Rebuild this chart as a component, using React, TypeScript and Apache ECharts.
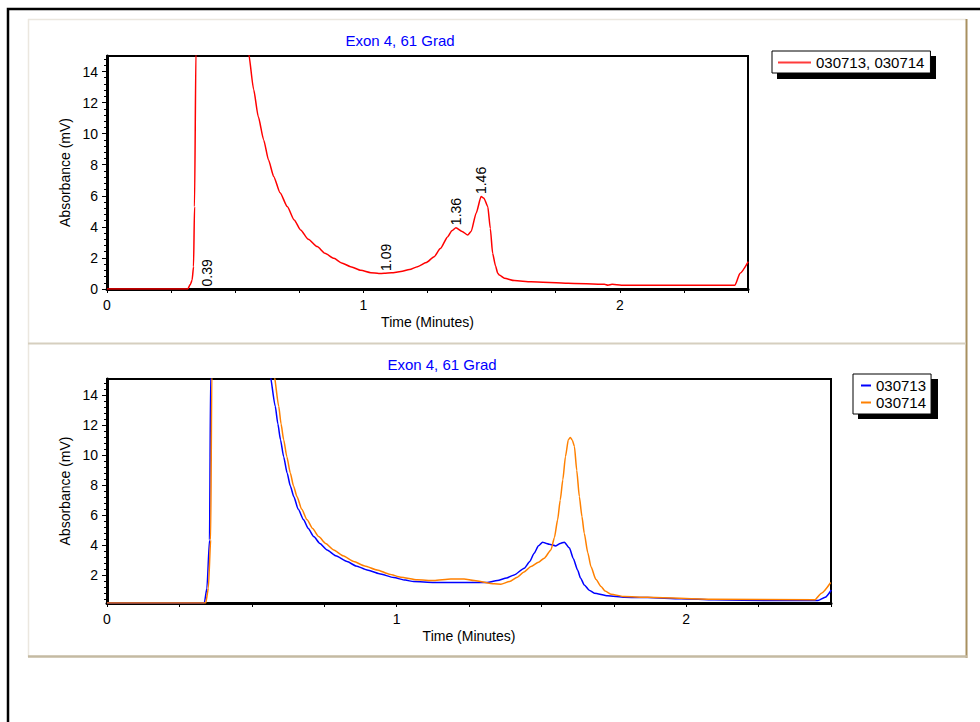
import React, { useEffect, useRef } from 'react';
import * as echarts from 'echarts';

const FONT = '"Liberation Sans", Arial, sans-serif';

const chartTitle = 'Exon 4, 61 Grad';
const xAxisName = 'Time (Minutes)';
const yAxisName = 'Absorbance (mV)';
const topSeriesName = '030713, 030714';
const bottomSeriesNames = ['030713', '030714'];

const xTickLabels = [0, 1, 2];
const topYTickLabels = [0, 2, 4, 6, 8, 10, 12, 14];
const bottomYTickLabels = [2, 4, 6, 8, 10, 12, 14];

const peakTimes = [0.39, 1.09, 1.36, 1.46];
const peakLabelHeights = [0, 1.0, 3.95, 5.95];

const topTrace: [number, number][] = [
  [0, 0], [0.315, 0], [0.325, 0.3], [0.332, 0.58], [0.3375, 1.44], [0.3414, 5.3],
  [0.347, 15.5], [0.42, 60], [0.552, 15.2], [0.572, 12.84], [0.59, 11.1], [0.611, 9.6],
  [0.63, 8.3], [0.65, 7.25], [0.675, 6.2], [0.703, 5.31], [0.73, 4.45], [0.755, 3.8],
  [0.785, 3.2], [0.82, 2.73], [0.85, 2.3], [0.885, 1.98], [0.915, 1.68], [0.95, 1.44],
  [0.99, 1.2], [1.029, 1.05], [1.06, 1.0], [1.081, 1.01], [1.11, 1.05], [1.146, 1.12],
  [1.18, 1.25], [1.211, 1.44], [1.245, 1.7], [1.276, 2.08], [1.30, 2.6], [1.329, 3.37],
  [1.345, 3.75], [1.361, 3.95], [1.385, 3.7], [1.407, 3.48], [1.42, 3.7], [1.44, 4.9],
  [1.459, 5.95], [1.47, 5.85], [1.485, 5.31], [1.495, 3.9], [1.504, 2.3], [1.515, 1.5],
  [1.524, 1.01], [1.53, 0.9], [1.55, 0.69], [1.589, 0.54], [1.654, 0.47], [1.798, 0.37],
  [1.94, 0.3], [1.954, 0.24], [1.97, 0.3], [2.006, 0.24], [2.449, 0.24], [2.469, 1.01],
  [2.501, 1.76],
];

const trace030713: [number, number][] = [
  [0, 0.12], [0.336, 0.12], [0.345, 1.11], [0.354, 4.34], [0.358, 15.5], [0.44, 60],
  [0.562, 15.5], [0.581, 13.27], [0.59, 12.1], [0.599, 11.04], [0.61, 9.9], [0.622, 8.81],
  [0.633, 7.95], [0.645, 7.24], [0.66, 6.4], [0.679, 5.68], [0.695, 5.1], [0.714, 4.56],
  [0.735, 4.1], [0.76, 3.67], [0.79, 3.28], [0.829, 2.89], [0.86, 2.6], [0.898, 2.33],
  [0.94, 2.08], [0.99, 1.82], [1.03, 1.65], [1.059, 1.55], [1.129, 1.49], [1.244, 1.49],
  [1.313, 1.49], [1.348, 1.62], [1.38, 1.8], [1.406, 2.0], [1.441, 2.45], [1.46, 2.9],
  [1.475, 3.45], [1.49, 3.95], [1.504, 4.19], [1.515, 4.12], [1.527, 4.05], [1.55, 3.94],
  [1.565, 4.1], [1.579, 4.19], [1.597, 3.79], [1.61, 3.1], [1.625, 2.33], [1.635, 1.8],
  [1.648, 1.33], [1.665, 0.98], [1.683, 0.78], [1.729, 0.6], [1.787, 0.51], [1.867, 0.48],
  [1.983, 0.41], [2.098, 0.33], [2.294, 0.28], [2.455, 0.28], [2.48, 0.5], [2.501, 0.99],
];

const trace030714: [number, number][] = [
  [0, 0.12], [0.341, 0.12], [0.35, 1.11], [0.358, 4.34], [0.362, 15.5], [0.45, 60],
  [0.576, 15.5], [0.593, 13.27], [0.601, 12.1], [0.61, 11.04], [0.621, 9.9], [0.633, 8.81],
  [0.644, 7.95], [0.656, 7.24], [0.672, 6.4], [0.691, 5.68], [0.71, 5.1], [0.731, 4.56],
  [0.755, 4.1], [0.783, 3.67], [0.815, 3.28], [0.852, 2.89], [0.89, 2.6], [0.933, 2.33],
  [0.975, 2.05], [1.014, 1.85], [1.071, 1.67], [1.129, 1.62], [1.187, 1.73], [1.233, 1.73],
  [1.268, 1.62], [1.337, 1.4], [1.36, 1.38], [1.39, 1.55], [1.417, 1.85], [1.44, 2.2],
  [1.464, 2.56], [1.49, 2.85], [1.51, 3.12], [1.533, 3.67], [1.545, 4.5], [1.556, 5.68],
  [1.565, 7.0], [1.574, 8.36], [1.583, 9.9], [1.593, 11.04], [1.6, 11.19], [1.607, 11.0],
  [1.614, 10.59], [1.622, 9.0], [1.631, 7.24], [1.64, 5.9], [1.648, 4.79], [1.66, 3.5],
  [1.671, 2.56], [1.688, 1.7], [1.706, 1.22], [1.72, 0.92], [1.74, 0.71], [1.787, 0.55],
  [1.867, 0.5], [2.087, 0.37], [2.444, 0.33], [2.467, 0.78], [2.499, 1.49],
];

function minorTicks(majors: number[], lo: number, hi: number): number[] {
  const out: number[] = [];
  const all = [majors[0] - 2, ...majors];
  all.forEach((m) => {
    for (let k = 1; k <= 4; k++) {
      const v = Math.round((m + 0.4 * k) * 100) / 100;
      if (v > lo && v < hi && !majors.includes(v)) out.push(v);
    }
  });
  return out;
}

const axisText = { color: '#000', fontSize: 14, fontFamily: FONT };
const nameText = { color: '#000', fontSize: 14, fontFamily: FONT };

function xAxisFor(gridIndex: number) {
  return {
    gridIndex,
    type: 'value',
    min: 0,
    max: 2.5,
    interval: 0.25,
    name: xAxisName,
    nameLocation: 'middle',
    nameGap: 26,
    nameTextStyle: nameText,
    axisLine: { show: true, onZero: false, lineStyle: { color: '#000', width: 3 } },
    axisTick: { show: true, length: 4, lineStyle: { color: '#000', width: 1 } },
    axisLabel: {
      ...axisText,
      margin: 9,
      customValues: xTickLabels,
      formatter: (v: number) => (Number.isInteger(v) ? String(v) : ''),
    },
    splitLine: { show: false },
  };
}

function yAxesFor(gridIndex: number, min: number, max: number, labels: number[]) {
  return [
    {
      gridIndex,
      type: 'value',
      position: 'left',
      min,
      max,
      name: yAxisName,
      nameLocation: 'middle',
      nameGap: 31,
      nameRotate: 90,
      nameTextStyle: nameText,
      axisLine: { show: true, onZero: false, lineStyle: { color: '#000', width: 3 } },
      axisTick: { show: true, length: 5, customValues: labels, lineStyle: { color: '#000', width: 1 } },
      axisLabel: { ...axisText, margin: 9, customValues: labels },
      splitLine: { show: false },
    },
    {
      gridIndex,
      type: 'value',
      position: 'left',
      min,
      max,
      axisLine: { show: false },
      axisTick: {
        show: true,
        length: 3,
        customValues: minorTicks(topYTickLabels, min, max),
        lineStyle: { color: '#000', width: 1 },
      },
      axisLabel: { show: false },
      splitLine: { show: false },
    },
  ];
}

const lineBase = { type: 'line', symbol: 'none', clip: true, smooth: 0.2, smoothMonotone: 'x' };

export default function App() {
  const ref = useRef<HTMLDivElement>(null);

  useEffect(() => {
    if (!ref.current) return;
    const chart = echarts.init(ref.current, undefined, { renderer: 'svg' });

    const option: any = {
      animation: false,
      backgroundColor: '#fff',
      textStyle: { fontFamily: FONT },
      grid: [
        { left: 107, top: 56, width: 641, height: 233, show: true, borderColor: '#000', borderWidth: 2, backgroundColor: 'transparent' },
        { left: 107, top: 379, width: 724, height: 224, show: true, borderColor: '#000', borderWidth: 2, backgroundColor: 'transparent' },
      ],
      xAxis: [xAxisFor(0), xAxisFor(1)],
      yAxis: [
        ...yAxesFor(0, 0, 15, topYTickLabels),
        ...yAxesFor(1, 0.12, 15.1, bottomYTickLabels),
      ],
      legend: [
        {
          data: [topSeriesName],
          left: 772,
          top: 51,
          orient: 'vertical',
          icon: 'rect',
          itemWidth: 33,
          itemHeight: 2,
          itemGap: 0,
          padding: [4, 6, 3, 6],
          backgroundColor: '#fff',
          borderColor: '#000',
          borderWidth: 1,
          selectedMode: false,
          textStyle: { color: '#000', fontSize: 15, fontFamily: FONT },
        },
        {
          data: bottomSeriesNames,
          left: 853,
          top: 374,
          orient: 'vertical',
          icon: 'rect',
          itemWidth: 10,
          itemHeight: 2,
          itemGap: 0,
          padding: [3, 5, 3, 8],
          backgroundColor: '#fff',
          borderColor: '#000',
          borderWidth: 1,
          selectedMode: false,
          textStyle: { color: '#000', fontSize: 15, fontFamily: FONT, lineHeight: 17 },
        },
      ],
      graphic: [
        { type: 'rect', z: -10, silent: true, shape: { x: 8, y: 9, width: 1200, height: 1000 }, style: { fill: '#fff', stroke: '#000', lineWidth: 2.5 } },
        { type: 'line', silent: true, shape: { x1: 28, y1: 19.5, x2: 966, y2: 19.5 }, style: { stroke: '#ebe7df', lineWidth: 1.5 } },
        { type: 'line', silent: true, shape: { x1: 28.5, y1: 19, x2: 28.5, y2: 657 }, style: { stroke: '#ebe7df', lineWidth: 1.5 } },
        { type: 'line', silent: true, shape: { x1: 966.5, y1: 19, x2: 966.5, y2: 658 }, style: { stroke: '#a89060', lineWidth: 2 } },
        { type: 'line', silent: true, shape: { x1: 28, y1: 343.5, x2: 966, y2: 343.5 }, style: { stroke: '#d6cfbf', lineWidth: 2 } },
        { type: 'line', silent: true, shape: { x1: 28, y1: 656.5, x2: 967, y2: 656.5 }, style: { stroke: '#c4baa2', lineWidth: 2.5 } },
        { type: 'text', silent: true, x: 400, y: 40, style: { text: chartTitle, fill: '#0000ff', font: `15px ${FONT}`, align: 'center', verticalAlign: 'middle' } },
        { type: 'text', silent: true, x: 442, y: 364, style: { text: chartTitle, fill: '#0000ff', font: `15px ${FONT}`, align: 'center', verticalAlign: 'middle' } },
        { type: 'rect', silent: true, shape: { x: 777, y: 56, width: 159, height: 23 }, style: { fill: '#000' } },
        { type: 'rect', silent: true, shape: { x: 858, y: 379, width: 80, height: 40 }, style: { fill: '#000' } },
      ],
      series: [
        {
          ...lineBase,
          name: topSeriesName,
          xAxisIndex: 0,
          yAxisIndex: 0,
          data: topTrace,
          lineStyle: { color: '#ff0000', width: 1.5 },
          itemStyle: { color: '#ff3b3b' },
          markPoint: {
            symbol: 'rect',
            symbolSize: 1,
            itemStyle: { color: 'rgba(0,0,0,0)' },
            label: {
              show: true,
              position: 'top',
              distance: 5,
              rotate: 90,
              align: 'left',
              verticalAlign: 'middle',
              offset: [-3, 0],
              formatter: '{b}',
              color: '#000',
              fontSize: 14,
              fontFamily: FONT,
            },
            data: peakTimes.map((t, i) => ({ name: t.toFixed(2), coord: [t, peakLabelHeights[i]] })),
          },
        },
        {
          ...lineBase,
          name: bottomSeriesNames[0],
          xAxisIndex: 1,
          yAxisIndex: 2,
          data: trace030713,
          lineStyle: { color: '#0000ff', width: 1.5 },
          itemStyle: { color: '#0000ff' },
        },
        {
          ...lineBase,
          name: bottomSeriesNames[1],
          xAxisIndex: 1,
          yAxisIndex: 2,
          data: trace030714,
          lineStyle: { color: '#ff8000', width: 1.5 },
          itemStyle: { color: '#ff8000' },
        },
      ],
    };

    chart.setOption(option);
    return () => chart.dispose();
  }, []);

  return (
    <div
      ref={ref}
      style={{ position: 'absolute', left: 0, top: 0, width: 980, height: 722, background: '#fff' }}
    />
  );
}
